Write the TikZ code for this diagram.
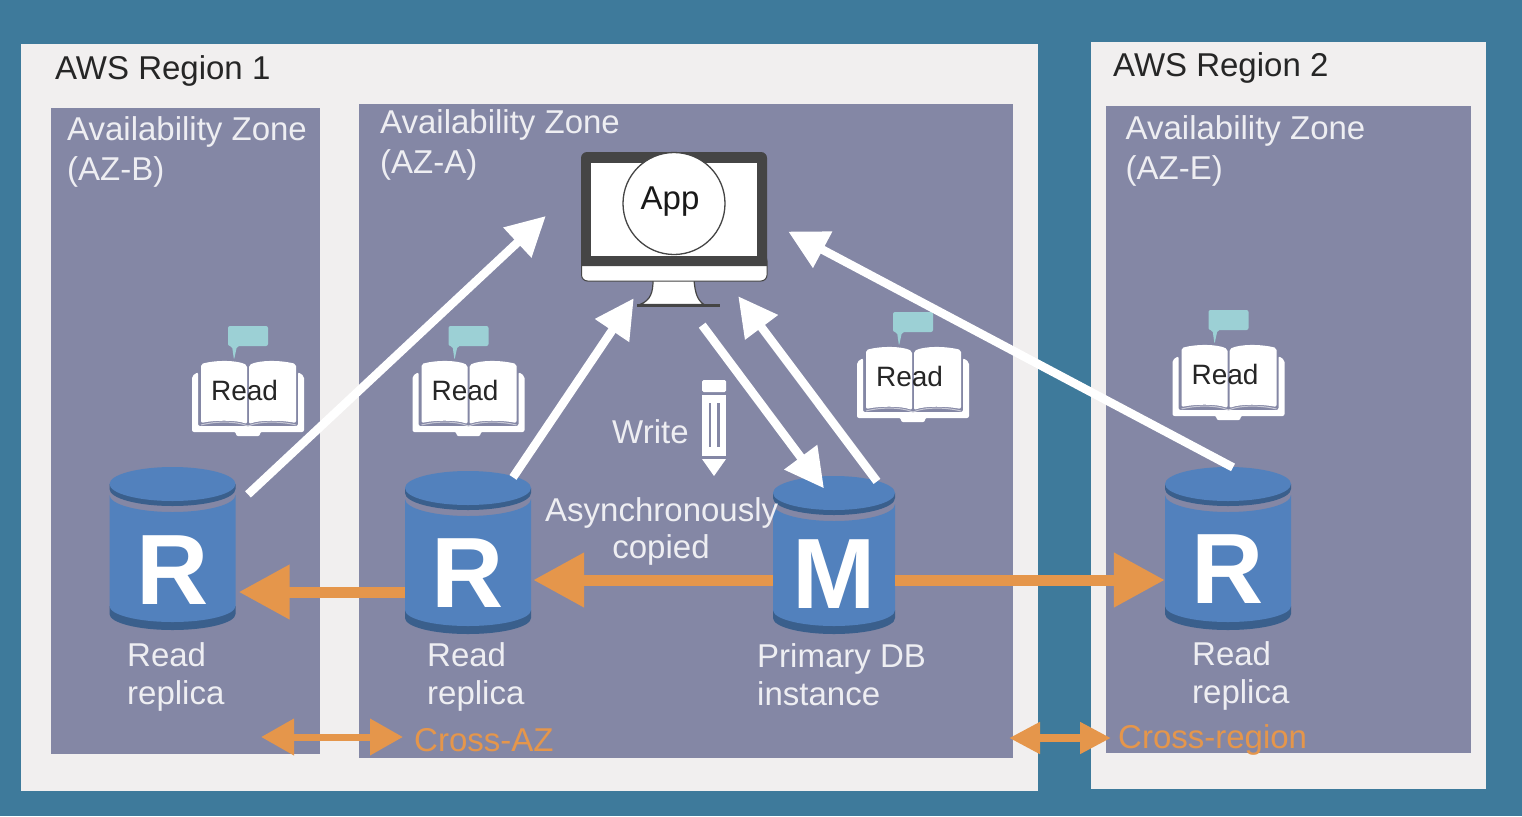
\documentclass[tikz,border=0pt]{standalone}
\usepackage{fontspec}
\setmainfont{Liberation Sans}
\usetikzlibrary{arrows.meta,calc}
\definecolor{bgc}{HTML}{3E7A9B}
\definecolor{regionc}{HTML}{F1EFEF}
\definecolor{azc}{HTML}{8487A5}
\definecolor{dbc}{HTML}{5281BD}
\definecolor{dbdark}{HTML}{3A5F8C}
\definecolor{orangec}{HTML}{E5964B}
\definecolor{tealc}{HTML}{9CD0D5}
\definecolor{labelc}{HTML}{EEEEF2}
\definecolor{monc}{HTML}{454545}
\tikzset{
  x=1pt,y=-1pt,
  regionbox/.style={fill=regionc,draw=none},
  azbox/.style={fill=azc,draw=none},
  blacktext/.style={font=\fontsize{33}{38}\selectfont,text=black!85,anchor=base west,inner sep=0pt},
  ltext/.style={font=\fontsize{33}{38}\selectfont,text=labelc,anchor=base west,inner sep=0pt},
  otext/.style={font=\fontsize{33}{38}\selectfont,text=orangec,anchor=base west,inner sep=0pt},
  readtext/.style={font=\fontsize{28}{32}\selectfont,text=black!85,inner sep=0pt},
  dbletter/.style={font=\fontsize{100}{100}\selectfont\bfseries,text=white,inner sep=0pt},
  wharrow/.style={draw=white,line width=8.5pt,-{Triangle[length=39pt,width=39pt]}},
  orarrow/.style={draw=orangec,line width=11pt,-{Triangle[length=51pt,width=52pt]}},
  crossarrow/.style={draw=orangec,line width=7pt,{Triangle[length=33pt,width=35pt]}-{Triangle[length=33pt,width=35pt]}},
  crossarrowsmall/.style={draw=orangec,line width=8pt,{Triangle[length=31pt,width=30pt]}-{Triangle[length=31pt,width=30pt]}},
}
% name, cx, top, height, letter, letter centre y, half width
\newcommand{\dbcyl}[7]{%
  \begin{scope}[shift={(#2,#3)}]
    \fill[dbdark] (-#7,#4-24) -- (-#7,#4-16) arc[start angle=180,end angle=360,x radius=#7pt,y radius=16pt] -- (#7,#4-24) -- cycle;
    \fill[dbc] (-#7,28) arc[start angle=180,end angle=360,x radius=#7pt,y radius=17pt] -- (#7,#4-24) arc[start angle=360,end angle=180,x radius=#7pt,y radius=16pt] -- cycle;
    \fill[dbdark] (-#7,17) -- (-#7,22) arc[start angle=180,end angle=360,x radius=#7pt,y radius=17pt] -- (#7,17) -- cycle;
    \fill[dbc] (0,17) ellipse[x radius=#7pt,y radius=17pt];
  \end{scope}
  \node[dbletter,minimum width=2*#7 pt] (#1) at (#2,#6) {#5};
}
\newcommand{\bookicon}[3]{%
  \begin{scope}[shift={(#2,#3)}]
    \fill[tealc,rounded corners=2pt] (228,326) -- (268,326) -- (268,346) -- (237,346) -- (234,360) -- (232,346) -- (228,346) -- cycle;
    \fill[white,rounded corners=2pt] (192,376) -- (192,432) -- (236,432) -- (236,436) -- (260,436) -- (260,432) -- (304,432) -- (304,376) -- (298,372) -- (298,426) -- (198,426) -- (198,372) -- cycle;
    \fill[white,rounded corners=2pt] (201,364) .. controls (216,360) and (236,360) .. (247,365) -- (247,424) .. controls (236,420) and (216,420) .. (201,423) -- cycle;
    \fill[white,rounded corners=2pt] (249,365) .. controls (260,360) and (280,360) .. (296,364) -- (296,423) .. controls (280,420) and (260,420) .. (249,424) -- cycle;
    \draw[azc!45!white,line width=1pt] (201,425) .. controls (216,421) and (236,421) .. (248,426) .. controls (260,421) and (280,421) .. (296,425);
    \node[readtext] (read#1) at (244.5,390.5) {Read};
  \end{scope}
}
\begin{document}
\begin{tikzpicture}
\useasboundingbox (0,0) rectangle (1522,816);
\fill[bgc] (0,0) rectangle (1522,816);
% regions
\fill[regionbox] (21,44) rectangle (1038,791);
\fill[regionbox] (1091,42) rectangle (1486,789);
\fill[azbox] (51,108) rectangle (320,754);
\fill[azbox] (359,104) rectangle (1013,758);
\fill[azbox] (1106,106) rectangle (1471,753);
% titles
\node[blacktext] (r1) at (55,79) {AWS Region 1};
\node[blacktext] (r2) at (1113,77) {AWS Region 2};
\node[ltext] (azb1) at (67,140) {Availability Zone};
\node[ltext] (azb2) at (67,180) {(AZ-B)};
\node[ltext] (aza1) at (380,133) {Availability Zone};
\node[ltext] (aza2) at (380,173) {(AZ-A)};
\node[ltext] (aze1) at (1125.5,139) {Availability Zone};
\node[ltext] (aze2) at (1125.5,179) {(AZ-E)};
% books
\bookicon{a}{0}{0}
\bookicon{b}{220.5}{0}
\bookicon{c}{665}{-14}
\bookicon{d}{980.5}{-16}
% monitor
\fill[white,draw=monc,line width=1.2pt] (653,280) .. controls (653,292) and (651,300) .. (640,304.5) -- (704,304.5) .. controls (697,300) and (695,292) .. (694,280) -- cycle;
\draw[monc,line width=3pt] (637,305) -- (720,305);
\node[minimum width=186pt,minimum height=129pt,inner sep=0pt,fill=none] (mon) at (674,216.5) {};
\fill[white,draw=monc,line width=1pt,rounded corners=6pt] (581.5,255) rectangle (767,281);
\fill[monc,rounded corners=6pt] (581,266) [sharp corners] -- (581,200) [rounded corners=6pt] -- (581,152) -- (767,152) -- (767,200) [sharp corners] -- (767,266) -- cycle;
\fill[white] (591,163) rectangle (757,256);
\fill[white,draw=monc,line width=1.3pt] (674,203.5) circle[radius=51pt];
\node[font=\fontsize{33}{38}\selectfont,text=black!90,inner sep=0pt,anchor=base] (app) at (670,209) {App};
% pencil
\fill[white,rounded corners=1.5pt] (702,380) rectangle (726,392);
\fill[white] (702,395) rectangle (726,456);
\fill[azc] (708.5,403) rectangle (711,447);
\fill[azc] (717,403) rectangle (719.5,447);
\fill[white] (702,459) -- (726,459) -- (714,476) -- cycle;
\node[ltext] (write) at (612,443) {Write};
% databases
\dbcyl{dbB}{172.5}{467}{163}{R}{570}{63}
\dbcyl{dbA}{468}{471}{163}{R}{573}{63}
\dbcyl{dbM}{834}{476}{158}{M}{574}{61}
\dbcyl{dbE}{1228}{467}{163}{R}{569}{63}
% text
\node[ltext] (asy) at (545,521) {Asynchronously};
\node[ltext,anchor=base] (cop) at (661,558) {copied};
\node[ltext] (rb1) at (127,666) {Read};
\node[ltext] (rb2) at (127,704) {replica};
\node[ltext] (ra1) at (427,666) {Read};
\node[ltext] (ra2) at (427,704) {replica};
\node[ltext] (pm1) at (757,667) {Primary DB};
\node[ltext] (pm2) at (757,705) {instance};
\node[ltext] (re1) at (1192,665) {Read};
\node[ltext] (re2) at (1192,703) {replica};
% orange arrows
\draw[orarrow] ($(dbM.west)+(0,6)$) -- ($(dbA.east)+(2,7)$);
\draw[orarrow] ($(dbA.west)+(0,19)$) -- ($(dbB.east)+(3,22)$);
\draw[orarrow] ($(dbM.east)+(0,6)$) -- ($(dbE.west)+(0,11)$);
% white arrows
\draw[wharrow] ($(dbB.north)+(75.5,-41)$) -- ($(mon.west)+(-35,-0.5)$);
\draw[wharrow] ($(dbA.north)+(45,-61)$) -- ($(mon.south west)+(53,17)$);
\draw[wharrow] ($(mon.south east)+(-65,44)$) -- ($(dbM.north)+(-10,-51)$);
\draw[wharrow] ($(dbM.north)+(43,-58)$) -- ($(mon.south east)+(-29,15)$);
\draw[wharrow] ($(dbE.north)+(5,-67)$) -- ($(mon.east)+(21,15)$);
% legend
\node[otext] (caz) at (414,751) {Cross-AZ};
\node[otext] (creg) at (1118,748) {Cross-region};
\coordinate (cazl) at (261,737);
\coordinate (cregl) at (1009,738);
\draw[crossarrow] (cazl) -- ($(caz.base west)+(-11,-14)$);
\draw[crossarrowsmall] (cregl) -- ($(creg.base west)+(-7,-10)$);
\end{tikzpicture}
\end{document}
